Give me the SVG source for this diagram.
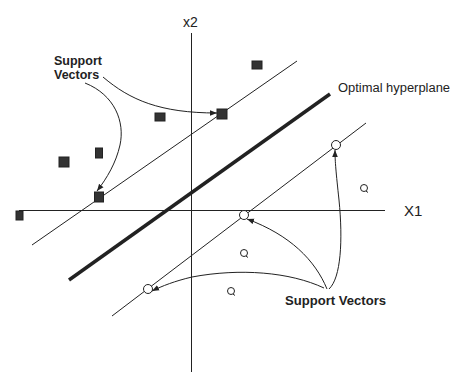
<svg xmlns="http://www.w3.org/2000/svg" width="451" height="380" viewBox="0 0 451 380">
<style>
.ln{stroke:#222;stroke-width:1;fill:none}
.arr{stroke:#222;stroke-width:1;fill:none;marker-end:url(#ah)}
.sq{fill:#333;stroke:#222;stroke-width:1}
.ci{fill:#fff;stroke:#222;stroke-width:1}
.lb{font-family:"Liberation Sans",Arial,sans-serif;fill:#222}
.b{font-weight:bold;font-size:12.5px}
</style>
<defs>
<marker id="ah" viewBox="0 0 10 10" refX="10" refY="5" markerWidth="7" markerHeight="7" markerUnits="userSpaceOnUse" orient="auto">
<path d="M0,1 L10,5 L0,9 Z" fill="#222"/>
</marker>
</defs>
<rect width="451" height="380" fill="#fff"/>
<g id="axes">
<line class="ln" x1="19" y1="210.5" x2="385" y2="210.5"/>
<line class="ln" x1="191.5" y1="33" x2="191.5" y2="372"/>
<text class="lb" x="183" y="27" font-size="14">x2</text>
<text class="lb" x="404" y="216" font-size="15">X1</text>
</g>
<g id="margin-lines">
<line class="ln" x1="32" y1="245" x2="297" y2="61"/>
<line x1="69" y1="280" x2="330" y2="94" stroke="#222" stroke-width="3.5"/>
<line class="ln" x1="112" y1="316" x2="366" y2="123"/>
<text class="lb" x="338" y="92" font-size="12" textLength="112" lengthAdjust="spacingAndGlyphs">Optimal hyperplane</text>
</g>
<g id="squares">
<rect class="sq" x="252" y="61" width="10" height="8"/>
<rect class="sq" x="155" y="113" width="10" height="8"/>
<rect class="sq" x="59" y="157" width="10" height="10"/>
<rect class="sq" x="95.5" y="148" width="7" height="10"/>
<rect class="sq" x="16" y="211" width="7" height="9"/>
</g>
<g id="support-squares">
<rect class="sq" x="94.5" y="192" width="9" height="10"/>
<rect class="sq" x="217" y="109" width="10" height="10"/>
</g>
<g id="circles">
<circle class="ci" cx="364" cy="188" r="3.5"/><line class="ln" x1="366" y1="191" x2="368" y2="192.5"/>
<circle class="ci" cx="244" cy="253" r="3.5"/><line class="ln" x1="246" y1="256" x2="248" y2="257.5"/>
<circle class="ci" cx="231" cy="291" r="3.5"/><line class="ln" x1="233" y1="294" x2="235" y2="295.5"/>
</g>
<g id="support-circles">
<circle class="ci" cx="148" cy="289" r="4.5"/>
<circle class="ci" cx="244" cy="215" r="4.5"/>
<circle class="ci" cx="336" cy="145" r="4.5"/>
</g>
<g id="label-top">
<text class="lb b" x="54" y="65">Support</text>
<text class="lb b" x="54" y="79">Vectors</text>
</g>
<g id="label-bottom">
<text class="lb b" x="285" y="305" textLength="101" lengthAdjust="spacingAndGlyphs">Support Vectors</text>
</g>
<g id="connectors">
<path class="arr" d="M103,77 C130,100 160,113 217,113"/>
<path class="arr" d="M85,83 C115,95 125,122 120,145 C116,163 107,178 97,191"/>
<path class="arr" d="M329,289 C341,278 343,240 339,200 C336,172 335,162 335,150"/>
<path class="arr" d="M327,289 C315,260 290,235 247,219"/>
<path class="arr" d="M324,288 C290,272 240,268 192,277 C175,281 162,286 152,291"/>
</g>
</svg>
